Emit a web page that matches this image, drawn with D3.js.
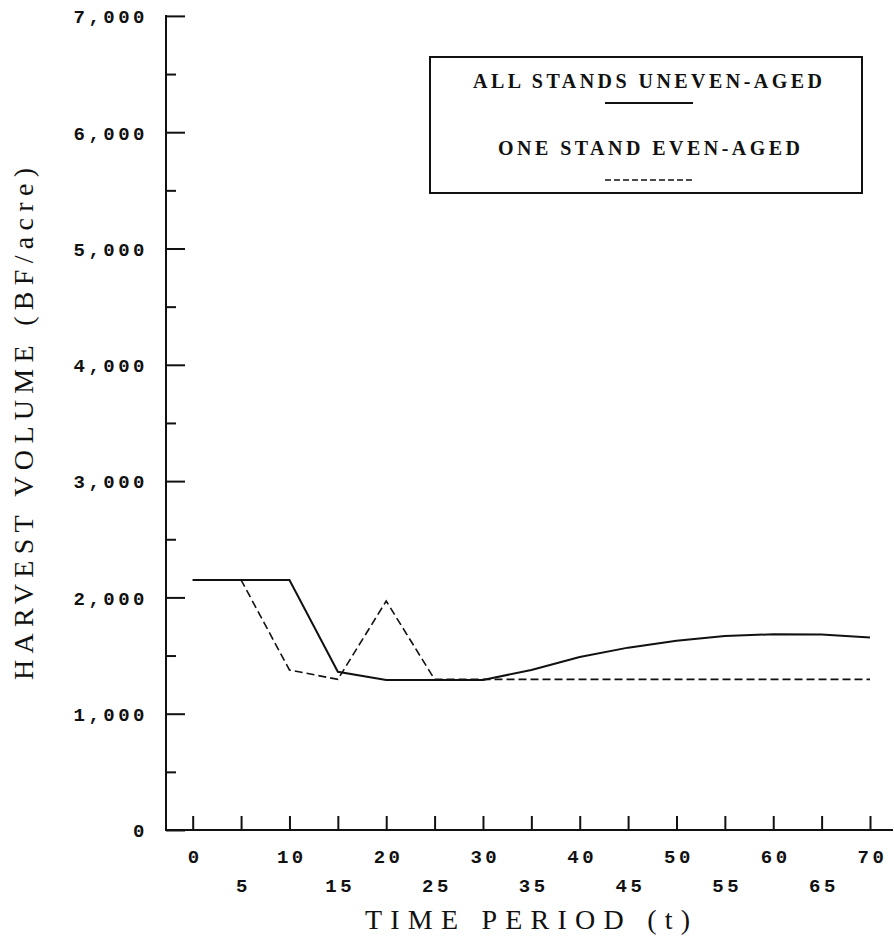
<!DOCTYPE html>
<html lang="en">
<head>
    <meta charset="UTF-8">
    <title>Harvest Volume by Time Period</title>
    <script src="https://d3js.org/d3.v7.min.js"></script>
    <style>
        body {
            margin: 0;
            background-color: #ffffff;
        }

        svg {
            display: block;
        }

        .axis path,
        .axis line,
        .axis-line {
            stroke: #111;
            stroke-width: 2px;
        }

        .axis text {
            font-family: "Liberation Mono", "Courier New", monospace;
            font-weight: bold;
            font-size: 19px;
            letter-spacing: 3.5px;
            fill: #111;
        }

        .axis-title {
            font-family: "Liberation Serif", "Times New Roman", serif;
            font-size: 28px;
            fill: #111;
        }

        .legend-text {
            font-family: "Liberation Serif", "Times New Roman", serif;
            font-weight: bold;
            font-size: 20px;
            fill: #111;
        }

        .line {
            fill: none;
            stroke: #111;
            stroke-width: 2px;
        }

        .dashed {
            stroke-width: 1.6px;
            stroke-dasharray: 8, 4;
        }
    </style>
</head>
<body>
<svg width="894" height="939"></svg>
<script>
    // time periods (t)
    const periods = [0, 5, 10, 15, 20, 25, 30, 35, 40, 45, 50, 55, 60, 65, 70];

    // harvest volume, BF/acre
    const unevenAged = [2150, 2150, 2150, 1360, 1290, 1290, 1290, 1376, 1487, 1568, 1628, 1668, 1683, 1680, 1655];
    const evenAged = [2150, 2150, 1376, 1295, 1969, 1295, 1295, 1295, 1295, 1295, 1295, 1295, 1295, 1295, 1295];

    const yMajorTicks = [0, 1000, 2000, 3000, 4000, 5000, 6000, 7000];
    const yMinorTicks = [500, 1500, 2500, 3500, 4500, 5500, 6500];
    const xTicks = [0, 5, 10, 15, 20, 25, 30, 35, 40, 45, 50, 55, 60, 65, 70];

    const seriesNames = ["ALL STANDS UNEVEN-AGED", "ONE STAND EVEN-AGED"];

    const svg = d3.select("svg");

    const axisX = 166,
        axisY = 830;

    const x = d3.scaleLinear().domain([0, 70]).range([192.7, 870]);
    const y = d3.scaleLinear().domain([0, 7000]).range([axisY, 15.9]);

    // y axis: major ticks with labels, minor ticks without
    svg.append("g")
        .attr("class", "axis axis--y")
        .attr("transform", `translate(${axisX},0)`)
        .call(d3.axisLeft(y).tickValues(yMajorTicks).tickSize(-19).tickSizeOuter(0)
            .tickPadding(18).tickFormat(d3.format(",")))
        .call(g => g.select(".domain").remove())
        .selectAll("text").attr("dy", "0.36em");

    svg.append("g")
        .attr("class", "axis axis--y-minor")
        .attr("transform", `translate(${axisX},0)`)
        .call(d3.axisLeft(y).tickValues(yMinorTicks).tickSize(-10).tickFormat(""))
        .call(g => g.select(".domain").remove());

    // x axis: ticks point up, labels alternate between two rows
    svg.append("g")
        .attr("class", "axis axis--x")
        .attr("transform", `translate(0,${axisY})`)
        .call(d3.axisBottom(x).tickValues(xTicks).tickSize(-14).tickPadding(0))
        .call(g => g.select(".domain").remove())
        .selectAll("text")
        .attr("y", d => (d % 10 === 0) ? 20 : 49)
        .attr("dy", "0.71em")
        .attr("dx", "0.1em");

    svg.append("line")
        .attr("class", "axis-line")
        .attr("x1", axisX).attr("x2", axisX)
        .attr("y1", 15).attr("y2", axisY + 1);

    svg.append("line")
        .attr("class", "axis-line")
        .attr("x1", axisX - 1).attr("x2", 893)
        .attr("y1", axisY).attr("y2", axisY);

    // axis titles (typewriter spacing stretched to the original width)
    svg.append("text")
        .attr("class", "axis-title")
        .attr("x", 365)
        .attr("y", 929)
        .attr("textLength", 325)
        .attr("lengthAdjust", "spacing")
        .text("TIME PERIOD (t)");

    svg.append("text")
        .attr("class", "axis-title")
        .attr("transform", "translate(33,680) rotate(-90)")
        .attr("textLength", 512)
        .attr("lengthAdjust", "spacing")
        .text("HARVEST VOLUME (BF/acre)");

    // lines
    const line = d3.line()
        .x((d, i) => x(periods[i]))
        .y(d => y(d));

    svg.append("path")
        .datum(unevenAged)
        .attr("class", "line")
        .attr("d", line);

    svg.append("path")
        .datum(evenAged)
        .attr("class", "line dashed")
        .attr("d", line);

    // legend
    const legend = svg.append("g").attr("class", "legend");

    legend.append("rect")
        .attr("x", 430).attr("y", 57)
        .attr("width", 432).attr("height", 136)
        .attr("fill", "none")
        .attr("stroke", "#111")
        .attr("stroke-width", 2);

    legend.append("text")
        .attr("class", "legend-text")
        .attr("x", 473).attr("y", 88)
        .attr("textLength", 349)
        .attr("lengthAdjust", "spacing")
        .text(seriesNames[0]);

    legend.append("line")
        .attr("class", "line")
        .attr("x1", 605).attr("x2", 693)
        .attr("y1", 103).attr("y2", 103);

    legend.append("text")
        .attr("class", "legend-text")
        .attr("x", 498).attr("y", 155)
        .attr("textLength", 302)
        .attr("lengthAdjust", "spacing")
        .text(seriesNames[1]);

    legend.append("line")
        .attr("class", "line dashed")
        .attr("x1", 605).attr("x2", 693)
        .attr("y1", 180).attr("y2", 180)
        .style("stroke-dasharray", "6,3");
</script>
</body>
</html>
